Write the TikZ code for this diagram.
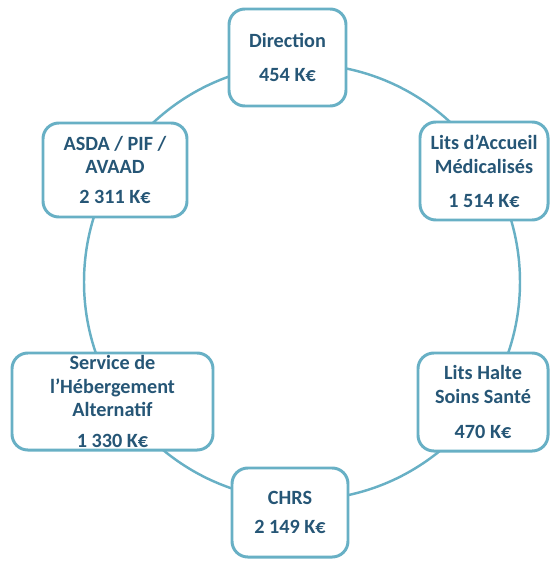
\documentclass[tikz,border=0pt]{standalone}
\usepackage{fontspec}
\setmainfont{Carlito}
\definecolor{bordure}{RGB}{104,176,197}
\definecolor{texte}{RGB}{38,86,118}
\tikzset{
  poste/.style={draw=bordure, line width=1.7pt, rounded corners=9pt, fill=white,
    align=center, text=texte, inner sep=0pt,
    font=\fontsize{11.5}{13.6}\selectfont\bfseries},
}
\begin{document}
\begin{tikzpicture}[x=0.2mm, y=-0.2mm]
  \useasboundingbox (0,0) rectangle (553,562);
  % the ring behind the boxes
  \draw[bordure, line width=1.4pt] (302,282) circle (218);
  % services
  \node[poste, minimum width=23.4mm, minimum height=19.4mm] (direction) at (287.5,57.5) {Direction\\[6pt]454 K€};
  \node[poste, minimum width=25.6mm, minimum height=19.6mm] (accueil)   at (484,171)    {Lits d’Accueil\\Médicalisés\\[5.5pt]1 514 K€};
  \node[poste, minimum width=26mm,   minimum height=19.6mm] (halte)     at (483,402)    {Lits Halte\\Soins Santé\\[6pt]470 K€};
  \node[poste, minimum width=23.2mm, minimum height=17.8mm] (chrs)      at (290,512.5)  {CHRS\\[3pt]2 149 K€};
  \node[poste, minimum width=40.2mm, minimum height=19.4mm] (alternatif) at (112.5,401.5) {Service de\\l’Hébergement\\Alternatif\\[4pt]1 330 K€};
  \node[poste, minimum width=28.8mm, minimum height=18.8mm] (asda)      at (115,170)    {ASDA / PIF /\\AVAAD\\[3.5pt]2 311 K€};
\end{tikzpicture}
\end{document}
